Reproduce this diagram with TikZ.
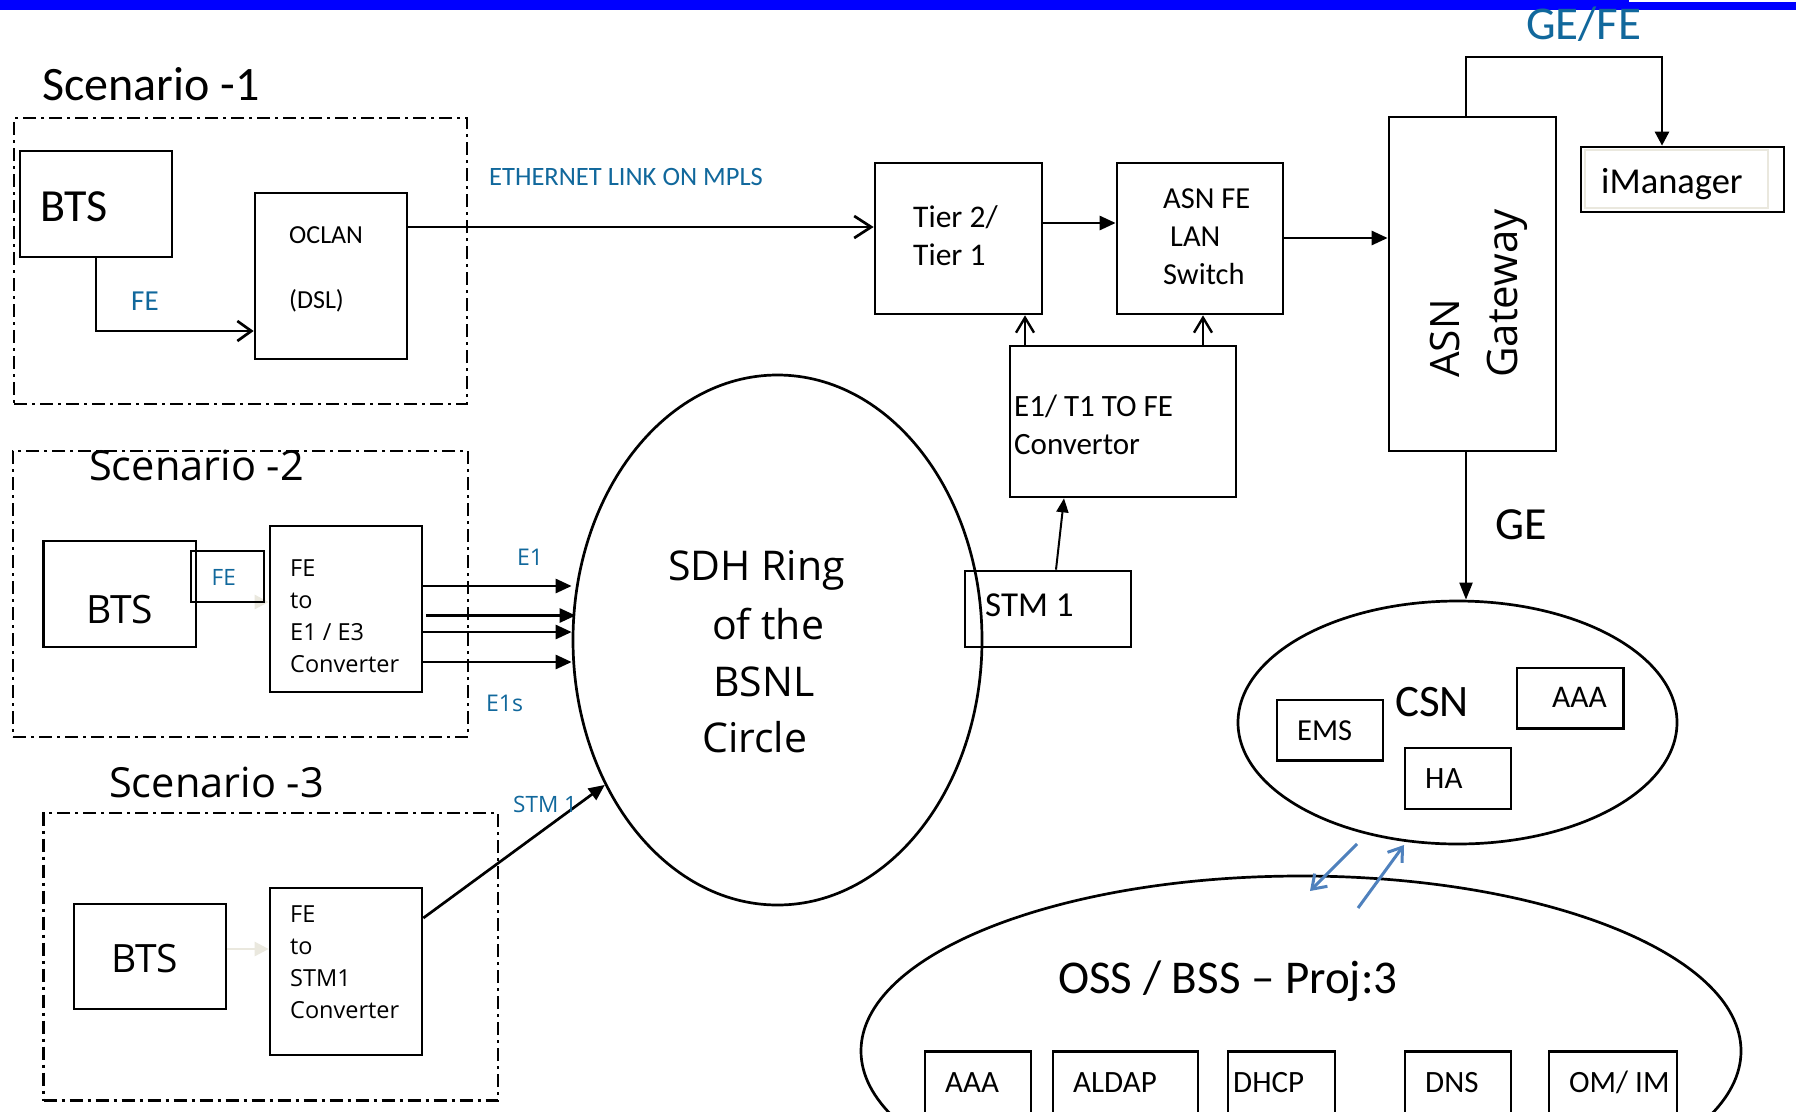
\documentclass[tikz,border=0pt]{standalone}
\usepackage{fontspec}
\setmainfont{Carlito}
\newfontfamily\osans{Open Sans}
\usetikzlibrary{arrows.meta,shapes.geometric,calc}
\definecolor{lblue}{RGB}{17,104,156}
\definecolor{arrblue}{RGB}{79,129,189}
\definecolor{faint}{RGB}{234,232,222}
\definecolor{barblue}{RGB}{0,0,255}
\newcommand\myfs[1]{\fontsize{#1}{#1}\selectfont}
\newcommand\mkbox[6][]{\node[box,#1,minimum width={(#5)-(#3)},minimum height={(#6)-(#4)}] (#2) at ({((#3)+(#5))/2},{((#4)+(#6))/2}) {};}
\tikzset{
  box/.style={draw, line width=2.7pt, rectangle, inner sep=0pt},
  dd/.style={line width=2.4pt, dash pattern=on 13pt off 5pt on 3pt off 5pt},
  lab/.style={inner sep=0pt, anchor=base west},
  oval/.style={draw, ellipse, line width=2.7pt, inner sep=0pt},
  openarr/.style={line width=2.7pt, -{Straight Barb[length=14pt,width=20pt]}},
  fillarr/.style={line width=2.7pt, -{Triangle[length=16pt,width=14pt]}},
  faintarr/.style={line width=2.6pt, draw=faint, -{Triangle[length=14pt,width=14pt,fill=faint]}},
  bluearr/.style={line width=3pt, draw=arrblue, -{Straight Barb[length=13pt,width=18pt]}},
}
\begin{document}
\begin{tikzpicture}[x=1pt,y=-1pt]
\useasboundingbox (0,0) rectangle (1796,1111);
\fill[white] (0,0) rectangle (1796,1111);
\fill[barblue] (0,0) rectangle (1796,10);
\fill[white] (1629,0) rectangle (1796,2);

% ---------- Scenario 1 ----------
\mkbox[dd]{sc1}{14}{118}{467}{404}
\mkbox{bts1}{20}{151}{172}{257}
\mkbox{oclan}{255}{193}{407}{359}
\node[lab,font=\myfs{48}] (s1) at (42,100) {Scenario -1};
\node[lab,font=\myfs{46}] (b1t) at (40,221) {BTS};
\node[lab,font=\myfs{26}] (oct) at (289,243) {OCLAN};
\node[lab,font=\myfs{26}] (dslt) at (289,308) {(DSL)};
\node[lab,font=\myfs{29},text=lblue] (fe1) at (131,310) {FE};
\node[lab,font=\myfs{26.5},text=lblue] (eth) at (489,185) {ETHERNET LINK ON MPLS};

% ---------- top chain ----------
\mkbox{tier}{875}{163}{1042}{314}
\mkbox{sw}{1117}{163}{1283}{314}
\mkbox{gw}{1389}{117}{1556}{451}
\mkbox{iman}{1581}{147}{1784}{212}
\draw[faint, line width=2pt] (1585,150) rectangle (1768,208);
\mkbox{conv}{1010}{346}{1236}{497}
\mkbox{stm}{965}{571}{1131}{647}

\node[lab,font=\myfs{31.5}] (tt1) at (913,227) {Tier 2/};
\node[lab,font=\myfs{31.5}] (tt2) at (913,265) {Tier 1};
\node[lab,font=\myfs{30.5}] (sw1) at (1163,208) {ASN FE};
\node[lab,font=\myfs{30.5}] (sw2) at (1170,246) {LAN};
\node[lab,font=\myfs{30.5}] (sw3) at (1163,284) {Switch};
\node[lab,font=\myfs{31}] (cv1) at (1014,416) {E1/ T1 TO FE};
\node[lab,font=\myfs{31}] (cv2) at (1014,454) {Convertor};
\node[lab,font=\osans\myfs{40.5},rotate=90] (asn) at (1459,378) {ASN};
\node[lab,font=\osans\myfs{42},rotate=90] (gwt) at (1517,378) {Gateway};
\node[lab,font=\myfs{47},text=lblue] (gefe) at (1526,39) {GE/FE};
\node[lab,font=\myfs{36.5}] (imt) at (1601,193) {iManager};
\node[lab,font=\myfs{35}] (stmt) at (985,616) {STM 1};
\node[lab,font=\myfs{46}] (get) at (1495,539) {GE};

% ---------- SDH ring ----------
\node[oval, minimum width=409pt, minimum height=530pt] (sdh) at (777.5,640) {};
\node[lab,font=\osans\myfs{41}] (r1) at (668,580) {SDH Ring};
\node[lab,font=\osans\myfs{41}] (r2) at (712,639) {of the};
\node[lab,font=\osans\myfs{41}] (r3) at (713,696) {BSNL};
\node[lab,font=\osans\myfs{41}] (r4) at (702,752) {Circle};

% ---------- Scenario 2 ----------
\mkbox[dd]{sc2}{13}{451}{468}{737}
\mkbox{bts2}{43.5}{541}{196}{647}
\mkbox{conv2}{270}{526}{422}{692}
\coordinate (fay) at (0,602);
\draw[faintarr] (bts2.east |- fay) -- (conv2.west |- fay);
\mkbox{fe2}{191}{551}{264}{602}
\node[lab,font=\osans\myfs{41.5}] (s2) at (89,480) {Scenario -2};
\node[lab,font=\osans\myfs{39}] (b2t) at (86,623.5) {BTS};
\node[lab,font=\osans\myfs{22.5},text=lblue] (fe2t) at (211.5,585) {FE};
\node[lab,font=\osans\myfs{23.5}] (c2a) at (290,576) {FE};
\node[lab,font=\osans\myfs{23.5}] (c2b) at (290,608) {to};
\node[lab,font=\osans\myfs{23.5}] (c2c) at (290,640) {E1 / E3};
\node[lab,font=\osans\myfs{23.5}] (c2d) at (290,672) {Converter};
\node[lab,font=\osans\myfs{23},text=lblue] (e1t) at (517,565) {E1};
\node[lab,font=\osans\myfs{23},text=lblue] (e1st) at (486,711.5) {E1s};
\coordinate (a1) at (0,586);
\coordinate (a2) at (0,615.5);
\coordinate (a3) at (0,632);
\coordinate (a4) at (0,662);
\draw[fillarr] (conv2.east |- a1) -- (sdh.west |- a1);
\draw[fillarr] ($(conv2.east |- a2)+(3,0)$) -- ($(sdh.west |- a2)+(4,0)$);
\draw[fillarr] (conv2.east |- a3) -- (sdh.west |- a3);
\draw[fillarr] (conv2.east |- a4) -- (sdh.west |- a4);

% ---------- Scenario 3 ----------
\mkbox[dd]{sc3}{43.5}{813}{498}{1100.5}
\mkbox{bts3}{74}{904}{226}{1009}
\mkbox{conv3}{270}{888}{422}{1055}
\coordinate (fby) at (0,949);
\draw[faintarr] (bts3.east |- fby) -- (conv3.west |- fby);
\node[lab,font=\osans\myfs{41.5}] (s3) at (109,797) {Scenario -3};
\node[lab,font=\osans\myfs{39}] (b3t) at (111,972) {BTS};
\node[lab,font=\osans\myfs{23.5}] (c3a) at (290,922) {FE};
\node[lab,font=\osans\myfs{23.5}] (c3b) at (290,954) {to};
\node[lab,font=\osans\myfs{23.5}] (c3c) at (290,986) {STM1};
\node[lab,font=\osans\myfs{23.5}] (c3d) at (290,1018) {Converter};
\coordinate (sy) at (0,918);
\draw[fillarr] (conv3.east |- sy) -- (sdh.220);
\node[lab,font=\osans\myfs{22.5},text=lblue] (stml) at (513,812) {STM 1};

% ---------- connectors top ----------
\coordinate (fey) at (0,331);
\draw[openarr] (bts1.south) |- (oclan.west |- fey);
\coordinate (ethy) at (0,227);
\draw[line width=2.7pt, -{Straight Barb[length=17pt,width=22pt]}] (oclan.east |- ethy) -- (tier.west |- ethy);
\coordinate (ty) at (0,223);
\draw[fillarr] (tier.east |- ty) -- (sw.west |- ty);
\coordinate (swy) at (0,238);
\draw[fillarr] (sw.east |- swy) -- (gw.west |- swy);
\coordinate (gx) at (1466,0);
\coordinate (gtop) at (0,57);
\coordinate (ix) at (1662,0);
\draw[line width=2.7pt, -{Triangle[length=14pt,width=14pt]}] (gw.north -| gx) |- (gtop -| ix) -- (iman.north -| ix);
\coordinate (cx1) at (1025,0);
\coordinate (cx2) at (1203,0);
\draw[line width=2.4pt, -{Straight Barb[length=15pt,width=18pt]}] (conv.north -| cx1) -- (tier.south -| cx1);
\draw[line width=2.4pt, -{Straight Barb[length=15pt,width=18pt]}] (conv.north -| cx2) -- (sw.south -| cx2);
\coordinate (sx1) at (1056,0);
\coordinate (sx2) at (1064,0);
\draw[line width=2pt, -{Triangle[length=14pt,width=12pt]}] (stm.north -| sx1) -- (conv.south -| sx2);

% ---------- CSN ----------
\node[oval, minimum width=439pt, minimum height=243pt] (csn) at (1457.5,722.5) {};
\draw[line width=2pt, -{Triangle[length=17pt,width=13pt]}] (gw.south -| gx) -- (csn.north -| gx);
\mkbox{ems}{1277}{700}{1383}{760.5}
\mkbox{aaa1}{1517}{668}{1623.5}{728.5}
\mkbox{ha}{1405}{748}{1511}{809}
\node[lab,font=\myfs{45}] (csnt) at (1395,716) {CSN};
\node[lab,font=\myfs{30.5}] (emst) at (1297,740) {EMS};
\node[lab,font=\myfs{31.5}] (aaat) at (1552,707) {AAA};
\node[lab,font=\myfs{31}] (hat) at (1425,788) {HA};

% ---------- OSS / BSS ----------
\node[oval, minimum width=880pt, minimum height=350pt] (oss) at (1301,1051) {};
\node[lab,font=\myfs{47}] (osst) at (1058,993) {OSS / BSS – Proj:3};
\mkbox{ob1}{925}{1051.5}{1031}{1140}
\mkbox{ob2}{1053}{1051.5}{1198}{1140}
\mkbox{ob3}{1228}{1051.5}{1335}{1140}
\mkbox{ob4}{1405}{1051.5}{1511}{1140}
\mkbox{ob5}{1549}{1051.5}{1677}{1140}
\node[lab,font=\myfs{31}] (o1t) at (945,1092) {AAA};
\node[lab,font=\myfs{31}] (o2t) at (1073,1092) {ALDAP};
\node[lab,font=\myfs{31}] (o3t) at (1233,1092) {DHCP};
\node[lab,font=\myfs{31}] (o4t) at (1425,1092) {DNS};
\node[lab,font=\myfs{31}] (o5t) at (1569,1092) {OM/ IM};

\coordinate (ba1) at (1357,844);
\coordinate (ba2) at (1310,891);
\coordinate (ba3) at (1358,908);
\coordinate (ba4) at (1404,845);
\draw[bluearr] (ba1) -- (ba2);
\draw[bluearr] (ba3) -- (ba4);
\end{tikzpicture}
\end{document}
